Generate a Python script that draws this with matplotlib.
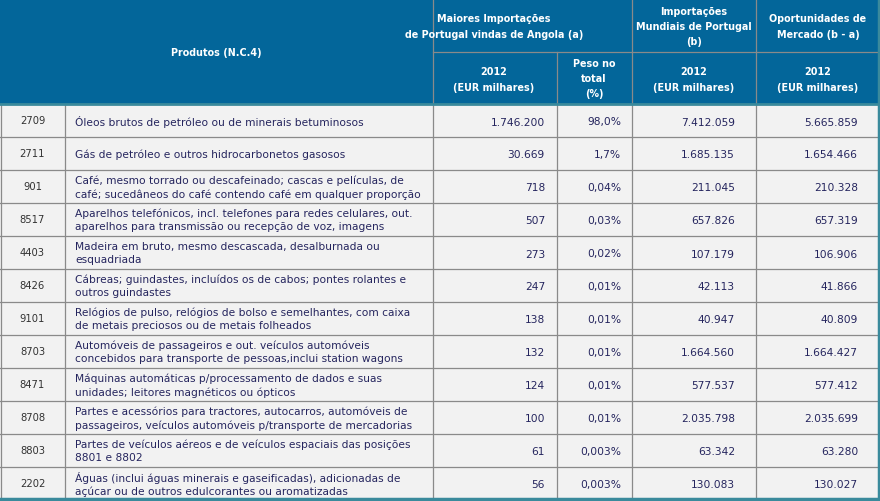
import matplotlib
matplotlib.use('Agg')
from matplotlib import pyplot as plt
from matplotlib.patches import Rectangle

codes = ['2709', '2711', '901', '8517', '4403', '8426', '9101', '8703', '8471', '8708', '8803', '2202']
products = [
    'Óleos brutos de petróleo ou de minerais betuminosos',
    'Gás de petróleo e outros hidrocarbonetos gasosos',
    'Café, mesmo torrado ou descafeinado; cascas e películas, de\ncafé; sucedâneos do café contendo café em qualquer proporção',
    'Aparelhos telefónicos, incl. telefones para redes celulares, out.\naparelhos para transmissão ou recepção de voz, imagens',
    'Madeira em bruto, mesmo descascada, desalburnada ou\nesquadriada',
    'Cábreas; guindastes, incluídos os de cabos; pontes rolantes e\noutros guindastes',
    'Relógios de pulso, relógios de bolso e semelhantes, com caixa\nde metais preciosos ou de metais folheados',
    'Automóveis de passageiros e out. veículos automóveis\nconcebidos para transporte de pessoas,inclui station wagons',
    'Máquinas automáticas p/processamento de dados e suas\nunidades; leitores magnéticos ou ópticos',
    'Partes e acessórios para tractores, autocarros, automóveis de\npassageiros, veículos automóveis p/transporte de mercadorias',
    'Partes de veículos aéreos e de veículos espaciais das posições\n8801 e 8802',
    'Águas (inclui águas minerais e gaseificadas), adicionadas de\naçúcar ou de outros edulcorantes ou aromatizadas',
]
imp_angola = ['1.746.200', '30.669', '718', '507', '273', '247', '138', '132', '124', '100', '61', '56']
peso_total = ['98,0%', '1,7%', '0,04%', '0,03%', '0,02%', '0,01%', '0,01%', '0,01%', '0,01%', '0,01%', '0,003%', '0,003%']
imp_mundiais = ['7.412.059', '1.685.135', '211.045', '657.826', '107.179', '42.113', '40.947',
                '1.664.560', '577.537', '2.035.798', '63.342', '130.083']
oportunidades = ['5.665.859', '1.654.466', '210.328', '657.319', '106.906', '41.866', '40.809',
                 '1.664.427', '577.412', '2.035.699', '63.280', '130.027']

header_blue = '#03669A'
teal = '#3A8A9C'
grid = '#8A8A8A'
body_bg = '#F2F2F2'
txt = '#25255E'

W, H = 880, 502
fig = plt.figure(figsize=(W / 100, H / 100), dpi=100)
ax = fig.add_axes([0, 0, 1, 1])
ax.set_xlim(0, W)
ax.set_ylim(H, 0)
ax.axis('off')

cols = [0, 65, 433, 557, 632, 756, 879]
head_mid = 53
head_bot = 105
row_h = 33

# header
ax.add_patch(Rectangle((0, 0), W, head_bot, color=header_blue, lw=0))
ax.add_patch(Rectangle((0, head_bot), W, H - head_bot, color=body_bg, lw=0))
for x in [cols[2], cols[4], cols[5]]:
    ax.plot([x, x], [0, head_bot], color=grid, lw=0.9)
ax.plot([cols[3], cols[3]], [head_mid, head_bot], color=grid, lw=0.9)
ax.plot([cols[2], W], [head_mid, head_mid], color=grid, lw=0.9)

hk = dict(color='white', fontweight='bold', fontsize=6.9, ha='center', va='center', linespacing=1.65)
ax.text(216, 53, 'Produtos (N.C.4)', **hk)
ax.text(494, 27, 'Maiores Importações\nde Portugal vindas de Angola (a)', **hk)
ax.text(694, 27, 'Importações\nMundiais de Portugal\n(b)', **hk)
ax.text(818, 27, 'Oportunidades de\nMercado (b - a)', **hk)
ax.text(494, 80, '2012\n(EUR milhares)', **hk)
ax.text(594, 79, 'Peso no\ntotal\n(%)', **hk)
ax.text(694, 80, '2012\n(EUR milhares)', **hk)
ax.text(818, 80, '2012\n(EUR milhares)', **hk)

# body
n = len(codes)
for i in range(n):
    y0 = head_bot + i * row_h
    yc = y0 + row_h / 2
    if i > 0:
        ax.plot([0, W], [y0, y0], color=grid, lw=0.9)
    ax.text((cols[0] + cols[1]) / 2, yc, codes[i], ha='center', va='center', fontsize=7.2, color='#333333')
    ax.text(cols[1] + 10, yc, products[i], ha='left', va='center', fontsize=7.7, color=txt, linespacing=1.38)
    ax.text(cols[3] - 12, yc + 1, imp_angola[i], ha='right', va='center', fontsize=7.7, color=txt)
    ax.text(cols[4] - 11, yc + 1, peso_total[i], ha='right', va='center', fontsize=7.7, color=txt)
    ax.text(cols[5] - 21, yc + 1, imp_mundiais[i], ha='right', va='center', fontsize=7.7, color=txt)
    ax.text(cols[6] - 21, yc + 1, oportunidades[i], ha='right', va='center', fontsize=7.7, color=txt)

bottom = head_bot + n * row_h
for x in cols[1:6]:
    ax.plot([x, x], [head_bot, bottom], color=grid, lw=0.9)
ax.plot([0.5, 0.5], [head_bot, bottom], color=grid, lw=0.9)
ax.plot([0, W], [head_bot, head_bot], color=teal, lw=2)
ax.plot([0, W], [bottom - 1, bottom - 1], color=teal, lw=2.5)
ax.plot([W - 1.5, W - 1.5], [0, bottom], color=teal, lw=2.5)

fig.savefig('out.png', dpi=100)
